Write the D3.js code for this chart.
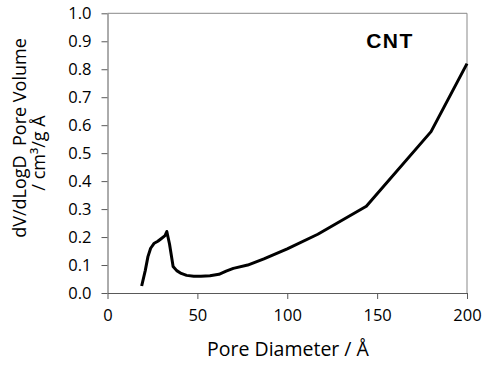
<!DOCTYPE html>
<html><head><meta charset="utf-8">
<script src="https://cdn.jsdelivr.net/npm/d3@7"></script>
<style>body{margin:0;background:#fff;} text{font-family:"Open Sans",sans-serif;fill:#000;}</style>
</head><body>
<svg id="c" width="484" height="369"></svg>
<script>
const poreDiameter = [19, 21, 22.5, 24, 26, 28, 30, 32, 33, 34.5, 36.5, 38.5, 41, 44, 48, 52, 57, 62, 66, 70, 78, 87, 100, 117, 144, 180, 200];
const poreVolume   = [0.025, 0.08, 0.13, 0.16, 0.178, 0.185, 0.195, 0.205, 0.22, 0.175, 0.095, 0.08, 0.07, 0.063, 0.06, 0.06, 0.062, 0.067, 0.078, 0.088, 0.1, 0.122, 0.158, 0.21, 0.31, 0.577, 0.82];
const xTicks = [0, 50, 100, 150, 200];
const yTicks = [0, 0.1, 0.2, 0.3, 0.4, 0.5, 0.6, 0.7, 0.8, 0.9, 1.0];
const seriesLabel = "CNT";

const svg = d3.select("#c");
const L = 107.5, R = 467, T = 13.3, B = 293;
const x = d3.scaleLinear().domain([0, 200]).range([L, R]);
const y = d3.scaleLinear().domain([0, 1]).range([B, T]);

svg.append("path").attr("d", `M${L},${T}H${R}V${B}`).attr("fill","none").attr("stroke","#898989").attr("stroke-width",1);

const xa = svg.append("g").attr("transform", `translate(0,${B})`)
  .call(d3.axisBottom(x).tickValues(xTicks).tickSize(6).tickSizeOuter(0).tickPadding(10).tickFormat(d3.format("d")));
const ya = svg.append("g").attr("transform", `translate(${L},0)`)
  .call(d3.axisLeft(y).tickValues(yTicks).tickSize(6).tickSizeOuter(0).tickPadding(10).tickFormat(d3.format(".1f")));
[xa, ya].forEach(g => {
  g.select(".domain").attr("stroke", "#595959");
  g.selectAll(".tick line").attr("stroke", "#595959");
  g.selectAll("text").style("font-family", '"Open Sans",sans-serif').style("font-size", "16.5px").attr("fill", "#000");
});

const data = poreDiameter.map((d, i) => [d, poreVolume[i]]);
svg.append("path").datum(data)
  .attr("d", d3.line().x(d => x(d[0])).y(d => y(d[1])))
  .attr("fill", "none").attr("stroke", "#000").attr("stroke-width", 3).attr("stroke-linejoin", "round");

svg.append("text").attr("x", 390).attr("y", 48).attr("text-anchor", "middle")
  .style("font-family", '"Liberation Sans",Arial,sans-serif').style("font-weight", "bold").style("font-size", "21px").style("letter-spacing", "1.5px").text(seriesLabel);

svg.append("text").attr("x", 288).attr("y", 356).attr("text-anchor", "middle").style("font-size", "19.5px").text("Pore Diameter / Å");

svg.append("text").attr("transform", "translate(26,138) rotate(-90)").attr("text-anchor", "middle").style("font-size", "18px").style("white-space", "pre").text("dV/dLogD  Pore Volume");
svg.append("text").attr("transform", "translate(45,153) rotate(-90)").attr("text-anchor", "middle").style("font-size", "18px").text("/ cm³/g Å");
</script>
</body></html>
